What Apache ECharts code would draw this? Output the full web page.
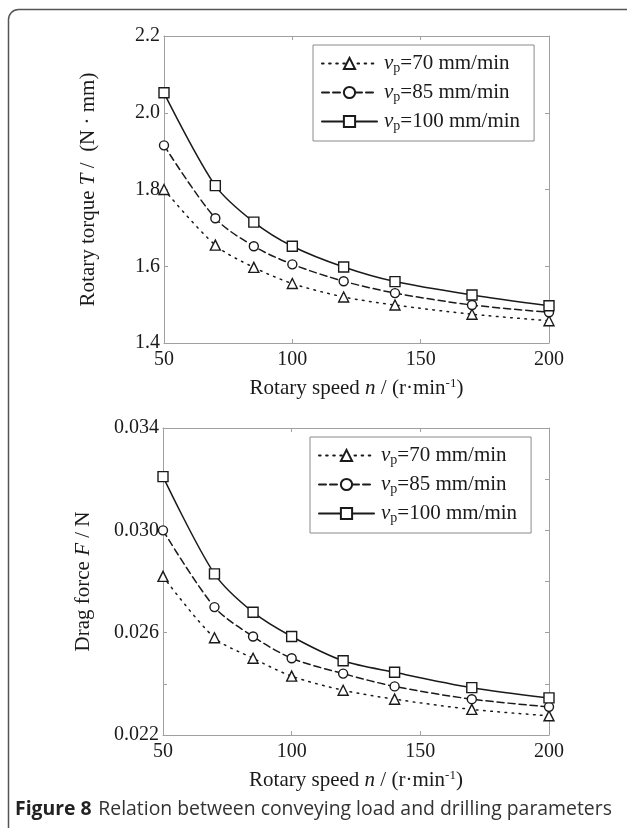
<!DOCTYPE html>
<html>
<head>
<meta charset="utf-8">
<script src="https://cdn.jsdelivr.net/npm/echarts@6/dist/echarts.min.js"></script>
<style>html,body{margin:0;padding:0;background:#fff}#c{width:627px;height:828px}</style>
</head>
<body>
<div id="c"></div>
<script>
// ---- data ----
const speeds = [50, 70, 85, 100, 120, 140, 170, 200];
const feedNames = ['70', '85', '100'];
const torque70  = [1.800, 1.655, 1.597, 1.555, 1.520, 1.499, 1.475, 1.458];
const torque85  = [1.915, 1.725, 1.652, 1.605, 1.561, 1.530, 1.499, 1.480];
const torque100 = [2.052, 1.810, 1.715, 1.652, 1.598, 1.560, 1.525, 1.497];
const drag70  = [0.0282, 0.0258, 0.0250, 0.0243, 0.02375, 0.0234, 0.0230, 0.02275];
const drag85  = [0.0300, 0.0270, 0.02585, 0.0250, 0.0244, 0.0239, 0.0234, 0.0231];
const drag100 = [0.0321, 0.0283, 0.0268, 0.02585, 0.0249, 0.02445, 0.02385, 0.02345];
const xTicks = [50, 100, 150, 200];
const torqueTicks = [1.4, 1.6, 1.8, 2.0, 2.2];
const dragTicks = [0.022, 0.026, 0.030, 0.034];

const chart = echarts.init(document.getElementById('c'), null, {renderer: 'canvas'});
const serif = 'Liberation Serif';
const ink = '#1a1a1a';
const frame = '#a0a0a0';

function rich(fs) {
  return {
    i: {fontFamily: serif, fontStyle: 'italic', fontSize: fs, color: ink},
    n: {fontFamily: serif, fontSize: fs, color: ink},
    sub: {fontFamily: serif, fontSize: Math.round(fs * 0.65), color: ink, verticalAlign: 'bottom', padding: [9, 0, 0, 0]},
    sup: {fontFamily: serif, fontSize: Math.round(fs * 0.6), color: ink, verticalAlign: 'top', padding: [0, 0, 9, 0]}
  };
}

const lineTypes = [[1.6, 5.5], [7, 4], 'solid'];
const symbols = ['triangle', 'circle', 'rect'];
const symSizes = [10, 9, 10];

function mkSeries(dataArr, xi, yi) {
  return dataArr.map((d, k) => ({
    type: 'line',
    name: feedNames[k],
    xAxisIndex: xi, yAxisIndex: yi,
    data: speeds.map((x, j) => [x, d[j]]),
    smooth: 0.3,
    symbol: symbols[k],
    symbolSize: symSizes[k],
    showAllSymbol: true,
    lineStyle: {color: ink, width: 1.5, type: lineTypes[k], cap: 'round'},
    itemStyle: {color: '#fff', borderColor: ink, borderWidth: 1.4},
    emphasis: {disabled: true},
    z: 3 + k
  }));
}

function xAxisPair(gi) {
  return [{
    type: 'value', gridIndex: gi, min: 50, max: 200, interval: 50, position: 'bottom',
    axisLine: {show: true, lineStyle: {color: frame, width: 1}},
    axisTick: {show: true, inside: true, length: 4, lineStyle: {color: frame}},
    splitLine: {show: false},
    axisLabel: {margin: 7, fontFamily: serif, fontSize: 20, color: ink,
      formatter: v => xTicks.includes(v) ? String(v) : ''},
    name: '{n|Rotary speed }{i|n}{n| / (r·min}{sup|-1}{n|)}',
    nameLocation: 'middle', nameGap: 34,
    nameTextStyle: {rich: rich(21)}
  }, {
    type: 'value', gridIndex: gi, min: 50, max: 200, interval: 50, position: 'top',
    axisLine: {show: true, lineStyle: {color: frame, width: 1}},
    axisTick: {show: true, inside: true, length: 4, lineStyle: {color: frame}},
    axisLabel: {show: false}, splitLine: {show: false}
  }];
}

function yAxisPair(gi, min, max, interval, labels, decimals, nameRich, gap) {
  return [{
    type: 'value', gridIndex: gi, min: min, max: max, interval: interval, position: 'left',
    axisLine: {show: true, lineStyle: {color: frame, width: 1}},
    axisTick: {show: true, inside: true, length: 4, lineStyle: {color: frame}},
    splitLine: {show: false},
    axisLabel: {margin: 4, fontFamily: serif, fontSize: 20, color: ink,
      formatter: v => labels.some(t => Math.abs(t - v) < 1e-9) ? v.toFixed(decimals) : ''},
    name: nameRich, nameLocation: 'middle', nameRotate: 90, nameGap: gap,
    nameTextStyle: {rich: rich(21)}
  }, {
    type: 'value', gridIndex: gi, min: min, max: max, interval: interval, position: 'right',
    axisLine: {show: true, lineStyle: {color: frame, width: 1}},
    axisTick: {show: true, inside: true, length: 4, lineStyle: {color: frame}},
    axisLabel: {show: false}, splitLine: {show: false}
  }];
}

function legendFor(left, top) {
  return {
    show: true, orient: 'vertical', left: left, top: top,
    data: feedNames.map(n => ({name: n})),
    backgroundColor: '#fff', borderColor: '#8a8a8a', borderWidth: 1,
    padding: [8, 14, 8, 8], itemGap: 7, itemWidth: 55, itemHeight: 14,
    selectedMode: false,
    formatter: n => '{i|v}{sub|p}{n|=' + n + ' mm/min}',
    textStyle: {rich: rich(21), padding: [0, 0, 0, 2]}
  };
}

const option = {
  animation: false,
  backgroundColor: '#fff',
  grid: [
    {left: 164, top: 36, width: 385, height: 307, show: false},
    {left: 163, top: 428, width: 386, height: 307, show: false}
  ],
  xAxis: [...xAxisPair(0), ...xAxisPair(1)],
  yAxis: [
    ...yAxisPair(0, 1.4, 2.2, 0.2, torqueTicks, 1,
      '{n|Rotary torque }{i|T}{n| /  (N · mm)}', 65),
    ...yAxisPair(1, 0.022, 0.034, 0.002, dragTicks, 3,
      '{n|Drag force }{i|F}{n| / N}', 69)
  ],
  legend: [legendFor(313, 45), legendFor(310, 437)],
  series: [
    ...mkSeries([torque70, torque85, torque100], 0, 0),
    ...mkSeries([drag70, drag85, drag100], 2, 2)
  ],
  graphic: [
    {type: 'rect', shape: {x: 8.5, y: 9.5, width: 700, height: 900, r: 10}, silent: true,
     style: {fill: 'none', stroke: '#555', lineWidth: 1.5}},
    {type: 'text', left: 15, top: 800, silent: true,
     style: {
       text: '{b|Figure 8}  {r|Relation between conveying load and drilling parameters}',
       rich: {
         b: {fontFamily: 'Open Sans', fontWeight: 'bold', fontSize: 19.4, fill: '#222'},
         r: {fontFamily: 'Open Sans', fontSize: 19.4, fill: '#333'}
       }
     }}
  ]
};
chart.setOption(option);
</script>
</body>
</html>
